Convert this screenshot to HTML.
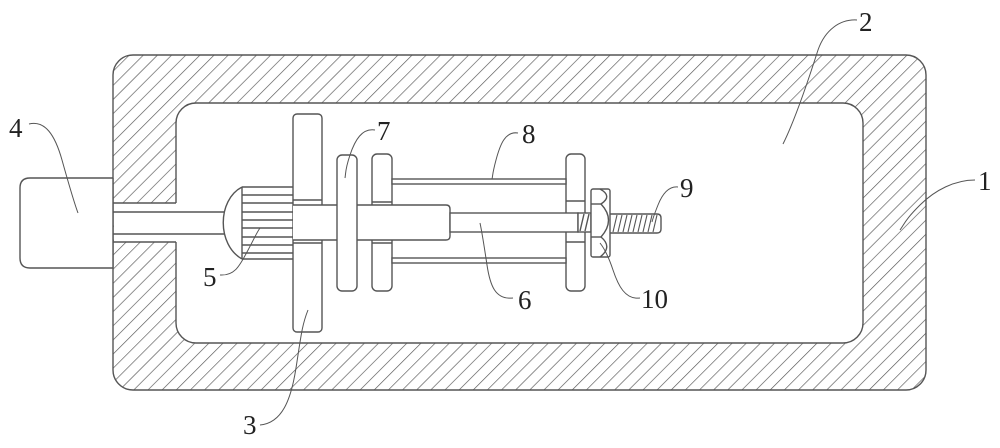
<!DOCTYPE html>
<html>
<head>
<meta charset="utf-8">
<style>
html,body{margin:0;padding:0;background:#fff;}
svg{display:block;}
text{font-family:"Liberation Serif",serif;font-size:27px;fill:#222;}
</style>
</head>
<body>
<svg width="1000" height="448" viewBox="0 0 1000 448" xmlns="http://www.w3.org/2000/svg">
<defs>
<pattern id="h" patternUnits="userSpaceOnUse" width="10" height="10" patternTransform="rotate(45)">
<line x1="0" y1="-1" x2="0" y2="11" stroke="#555" stroke-width="1.3"/>
</pattern>
</defs>
<g fill="none" stroke="#555" stroke-width="1.4">
<!-- housing -->
<rect x="113" y="55" width="813" height="335" rx="20" fill="url(#h)"/>
<rect x="176" y="103" width="687" height="240" rx="20" fill="#fff"/>
<!-- channel through left wall -->
<rect x="114" y="203" width="63" height="39" fill="#fff" stroke="none"/>
<line x1="113" y1="203" x2="176" y2="203"/>
<line x1="113" y1="242" x2="176" y2="242"/>
<!-- box 4 -->
<path d="M113,178 H30 Q20,178 20,188 V258 Q20,268 30,268 H113" fill="#fff"/>
<line x1="113" y1="178" x2="113" y2="268"/>
<!-- motor shaft -->
<line x1="113" y1="212" x2="226" y2="212"/>
<line x1="113" y1="234" x2="224" y2="234"/>
<!-- gear 5 -->
<path d="M242,187 C217,200 217,245 242,259" fill="#fff"/>
<line x1="242" y1="187" x2="242" y2="259"/>
<g>
<line x1="242" y1="187" x2="293" y2="187"/>
<line x1="242" y1="195" x2="293" y2="195"/>
<line x1="242" y1="203" x2="293" y2="203"/>
<line x1="242" y1="212" x2="293" y2="212"/>
<line x1="242" y1="220" x2="293" y2="220"/>
<line x1="242" y1="228" x2="293" y2="228"/>
<line x1="242" y1="237" x2="293" y2="237"/>
<line x1="242" y1="245" x2="293" y2="245"/>
<line x1="242" y1="253" x2="293" y2="253"/>
<line x1="242" y1="259" x2="293" y2="259"/>
</g>
<!-- disk 3 -->
<rect x="293" y="114" width="29" height="218" rx="4" fill="#fff"/>
<line x1="293" y1="200" x2="322" y2="200"/>
<line x1="293" y1="243" x2="322" y2="243"/>
<!-- disk A -->
<rect x="372" y="154" width="20" height="137" rx="5" fill="#fff"/>
<line x1="372" y1="202" x2="392" y2="202"/>
<line x1="372" y1="243" x2="392" y2="243"/>
<!-- right disk -->
<rect x="566" y="154" width="19" height="137" rx="5" fill="#fff"/>
<line x1="566" y1="201" x2="585" y2="201"/>
<line x1="566" y1="242" x2="585" y2="242"/>
<!-- rods 8 -->
<rect x="392" y="179" width="174" height="5" fill="#fff"/>
<rect x="392" y="258" width="174" height="5" fill="#fff"/>
<!-- sleeve -->
<path d="M293,205 H446 Q450,205 450,209 V236 Q450,240 446,240 H293" fill="#fff"/>
<!-- rod 6 -->
<rect x="450" y="213" width="128" height="19" fill="#fff"/>
<rect x="578" y="213" width="13" height="19" fill="#fff"/>
<line x1="580" y1="231" x2="584" y2="214"/>
<line x1="585" y1="231" x2="589" y2="214"/>
<!-- disk 7 -->
<rect x="337" y="155" width="20" height="136" rx="5" fill="#fff"/>
<!-- bolt 9 -->
<path d="M610,214 H657 Q661,214 661,218 V229 Q661,233 657,233 H610" fill="#fff"/>
<g stroke-width="1.1">
<line x1="613" y1="232" x2="617" y2="215"/>
<line x1="618" y1="232" x2="622" y2="215"/>
<line x1="623" y1="232" x2="627" y2="215"/>
<line x1="628" y1="232" x2="632" y2="215"/>
<line x1="633" y1="232" x2="637" y2="215"/>
<line x1="638" y1="232" x2="642" y2="215"/>
<line x1="643" y1="232" x2="647" y2="215"/>
<line x1="648" y1="232" x2="652" y2="215"/>
<line x1="653" y1="232" x2="657" y2="215"/>
</g>
<!-- nut 10 -->
<rect x="591" y="189" width="19" height="68" rx="2" fill="#fff"/>
<line x1="591" y1="204" x2="601" y2="204"/>
<line x1="591" y1="237" x2="601" y2="237"/>
<path d="M600,189 Q613,196 601,204"/>
<path d="M601,204 Q616,220 601,237"/>
<path d="M601,237 Q613,247 600,257"/>
</g>
<!-- leaders -->
<g fill="none" stroke="#555" stroke-width="1">
<path d="M29,124 C45,120 55,135 62,160 S75,205 78,213"/>
<path d="M220,275 C235,276 240,265 247,252 S257,232 260,228"/>
<path d="M260,425 C282,423 291,400 296,368 S302,325 308,310"/>
<path d="M375,130 C362,128 355,140 350,155 S346,172 345,178"/>
<path d="M518,133 C505,131 500,145 496,160 S493,175 492,179"/>
<path d="M513,298 C495,300 490,285 487,265 S482,232 480,223"/>
<path d="M640,298 C625,300 618,285 613,270 S604,248 600,243"/>
<path d="M678,187 C668,186 662,195 658,205 S653,218 652,222"/>
<path d="M857,20 C840,19 825,30 818,50 C810,75 795,120 783,144"/>
<path d="M975,180 C955,180 935,190 920,205 S905,223 900,230"/>
</g>
<!-- labels -->
<text x="9" y="137">4</text>
<text x="203" y="286">5</text>
<text x="243" y="434">3</text>
<text x="377" y="140">7</text>
<text x="522" y="143">8</text>
<text x="518" y="309">6</text>
<text x="641" y="308">10</text>
<text x="680" y="197">9</text>
<text x="859" y="31">2</text>
<text x="978" y="190">1</text>
</svg>
</body>
</html>
